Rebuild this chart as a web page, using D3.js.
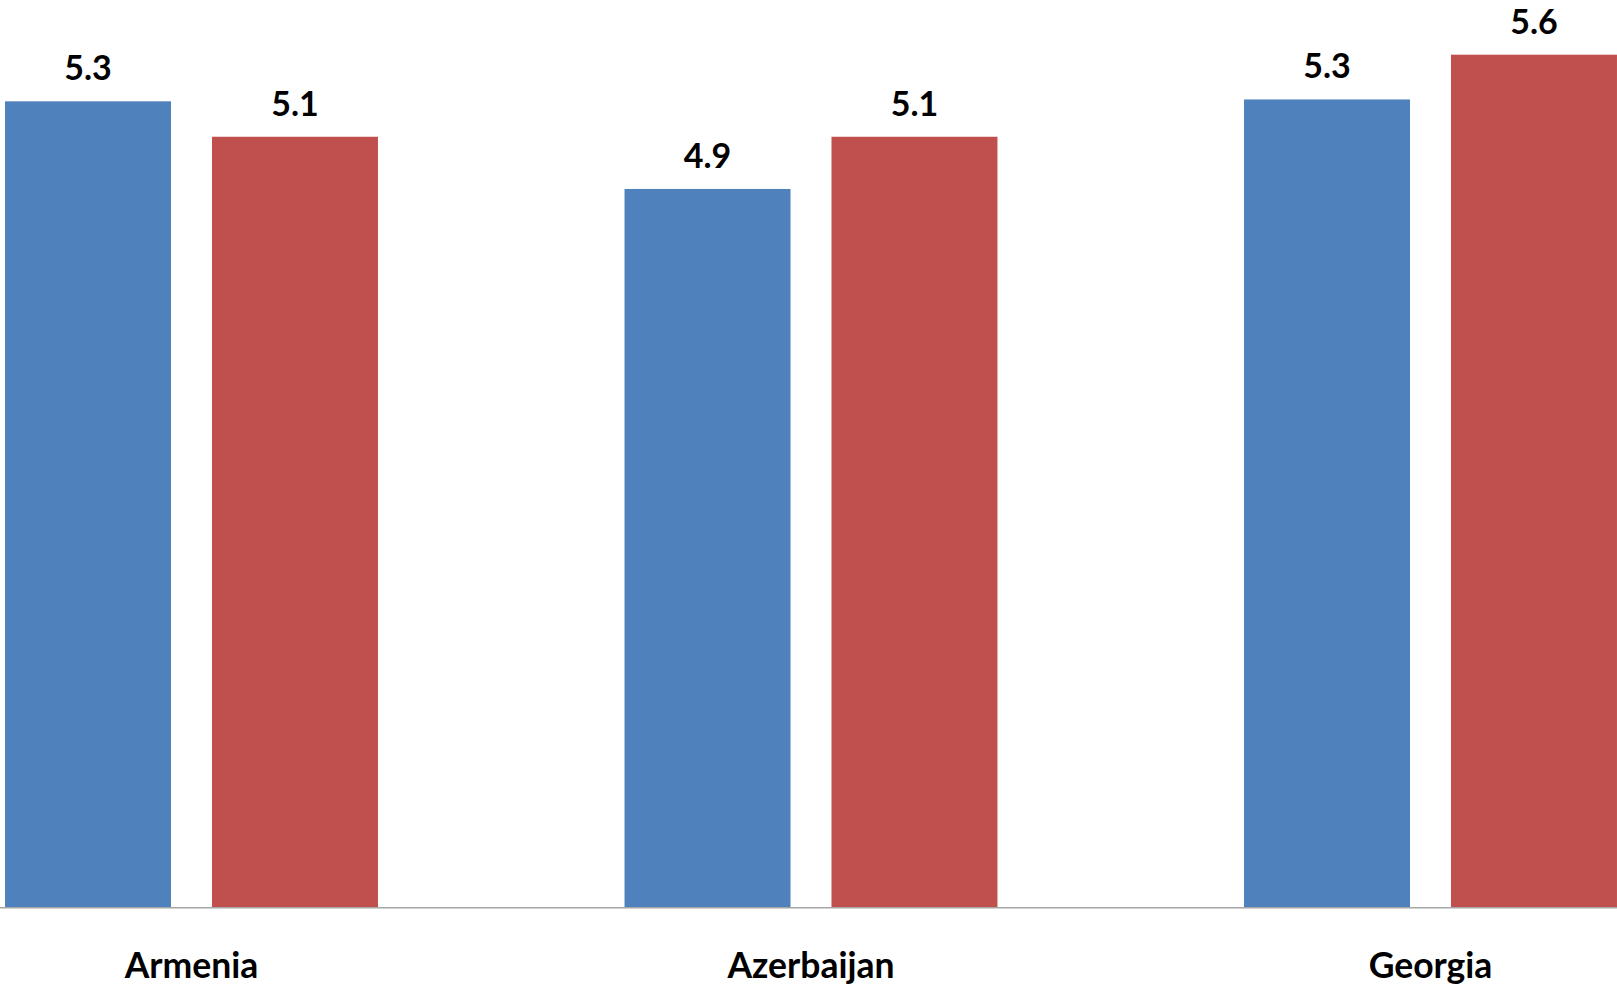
<!DOCTYPE html>
<html>
<head>
<meta charset="utf-8">
<script src="https://cdn.jsdelivr.net/npm/d3@7"></script>
<style>
  html, body { margin: 0; padding: 0; background: #ffffff; overflow: hidden; }
  svg { display: block; }
</style>
</head>
<body>
<svg id="chart" width="1617" height="985"></svg>
<script>
const categories = ["Armenia", "Azerbaijan", "Georgia"];
const seriesNames = ["Series 1", "Series 2"];
const series1 = [5.32, 4.85, 5.33];
const series2 = [5.13, 5.13, 5.57];
const seriesColors = ["#4F81BD", "#C0504D"];

const W = 1617, H = 985;
const baseY = 907;
const svg = d3.select("#chart");

const fmt = v => (Math.round(v * 10 + 1e-6) / 10).toFixed(1);

const data = categories.map((c, i) => ({ cat: c, vals: [series1[i], series2[i]] }));

const x0 = d3.scaleBand()
  .domain(categories)
  .range([-118.25, 1740.25])
  .paddingInner(0.398)
  .paddingOuter(0.199);

const x1 = d3.scaleBand()
  .domain(seriesNames)
  .range([0, x0.bandwidth()])
  .paddingInner(0.198)
  .paddingOuter(0);

const y = d3.scaleLinear()
  .domain([1, 6])
  .range([baseY, baseY - 5 * 186.5]);

const groups = svg.selectAll("g.cat")
  .data(data)
  .join("g")
  .attr("class", "cat")
  .attr("transform", d => `translate(${x0(d.cat)},0)`);

groups.selectAll("rect")
  .data(d => d.vals.map((v, j) => ({ v, s: seriesNames[j], j })))
  .join("rect")
  .attr("x", d => x1(d.s))
  .attr("y", d => y(d.v))
  .attr("width", x1.bandwidth())
  .attr("height", d => baseY - y(d.v))
  .attr("fill", d => seriesColors[d.j]);

groups.selectAll("text.val")
  .data(d => d.vals.map((v, j) => ({ v, s: seriesNames[j], j })))
  .join("text")
  .attr("class", "val")
  .attr("x", d => x1(d.s) + x1.bandwidth() / 2)
  .attr("y", d => y(d.v) - 21)
  .attr("text-anchor", "middle")
  .attr("font-family", "Lato, 'Open Sans', sans-serif")
  .attr("font-weight", "bold")
  .attr("font-size", 34)
  .attr("fill", "#000")
  .text(d => fmt(d.v));

// x axis line
const xAxis = d3.axisBottom(x0).tickSize(0).tickPadding(0);
const axisG = svg.append("g")
  .attr("transform", `translate(0,${baseY + 0.75})`)
  .call(xAxis);
axisG.select(".domain")
  .attr("d", `M0,0H${W}`)
  .attr("stroke", "#A6A6A6")
  .attr("stroke-width", 1.5);
axisG.selectAll(".tick text")
  .attr("y", 978 - baseY - 0.75)
  .attr("dy", 0)
  .attr("font-family", "Lato, 'Open Sans', sans-serif")
  .attr("font-weight", "bold")
  .attr("font-size", 35.5)
  .attr("fill", "#000");
</script>
</body>
</html>
